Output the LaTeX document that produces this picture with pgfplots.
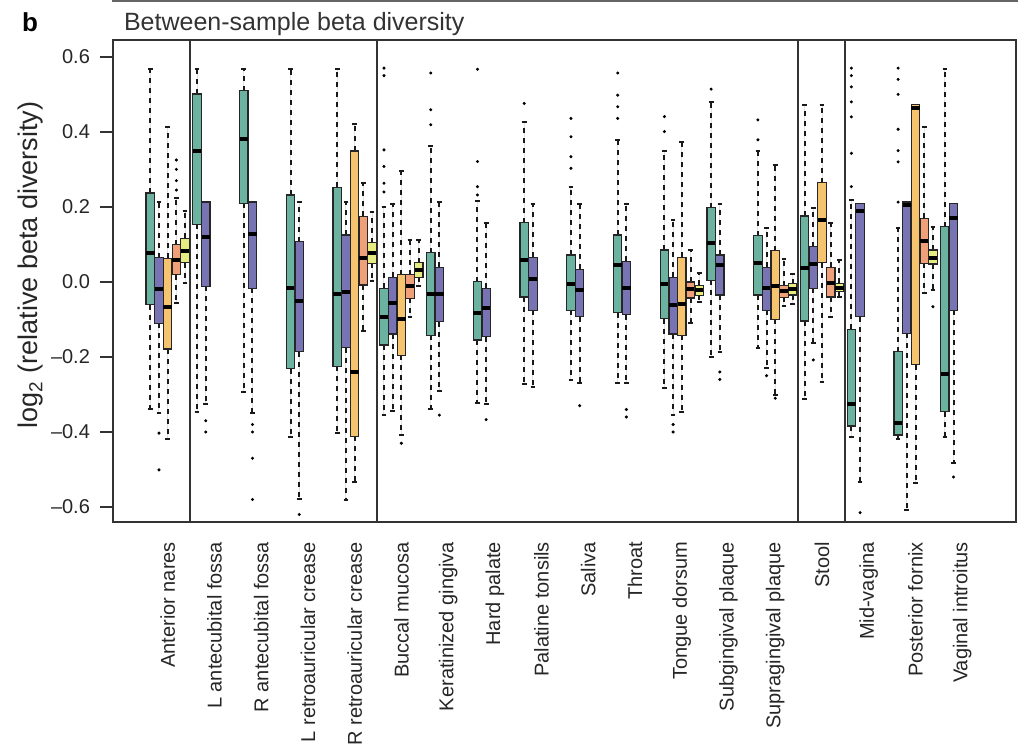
\documentclass[border=0pt]{standalone}
\usepackage{fontspec}
\setmainfont{Liberation Sans}
\usepackage{pgfplots}
\pgfplotsset{compat=1.18}
\usepgfplotslibrary{statistics}
\definecolor{cT}{RGB}{108,178,160}
\definecolor{cP}{RGB}{120,115,178}
\definecolor{cO}{RGB}{246,196,110}
\definecolor{cS}{RGB}{240,160,120}
\definecolor{cY}{RGB}{230,235,130}
% draw position, lower whisker, lower quartile, median, upper quartile, upper whisker, colour
\newcommand{\bx}[7]{\addplot[draw=black!85, fill=#7, line width=0.6pt,
  boxplot prepared={draw direction=y, draw position=#1, lower whisker=#2, lower quartile=#3,
  median=#4, upper quartile=#5, upper whisker=#6, box extend=0.18, whisker extend=0.1}]
  coordinates {};}
\begin{document}
\begin{tikzpicture}
\path[use as bounding box] (0,0) rectangle (509pt,-376.5pt);
\draw[black!60, line width=0.8pt] (56pt,-0.6pt) -- (509pt,-0.6pt);
\node[anchor=base west, font=\fontsize{13}{15}\selectfont\bfseries] at (7.5pt,-16pt) {b};
\node[anchor=base west, font=\fontsize{12.5}{15}\selectfont, text=black!80] at (58.5pt,-15.5pt) {Between-sample beta diversity};
\node[rotate=90, anchor=center, font=\fontsize{13.5}{15}\selectfont, text=black!85] at (15.5pt,-132.5pt) {log\textsubscript{2} (relative beta diversity)};
\begin{axis}[
  at={(56.5pt,-261pt)}, anchor=south west, scale only axis,
  width=451.5pt, height=241pt,
  xmin=-1.17, xmax=18.15, ymin=-0.64, ymax=0.645,
  axis line style={line width=0.9pt, black!80},
  ytick={-0.6,-0.4,-0.2,0,0.2,0.4,0.6},
  yticklabels={--0.6,--0.4,--0.2,0.0,0.2,0.4,0.6},
  ytick pos=left, tick align=outside, major tick length=6.5pt,
  y tick style={line width=0.8pt, black!80},
  xtick={0,...,17}, x tick style={draw=none}, xtick pos=bottom,
  xticklabels={Anterior nares, L antecubital fossa, R antecubital fossa, L retroauricular crease, R retroauricular crease, Buccal mucosa, Keratinized gingiva, Hard palate, Palatine tonsils, Saliva, Throat, Tongue dorsum, Subgingival plaque, Supragingival plaque, Stool, Mid-vagina, Posterior fornix, Vaginal introitus},
  tick label style={font=\fontsize{10}{12}\selectfont, text=black!85},
  x tick label style={rotate=90, anchor=east},
  y tick label style={xshift=-1.5pt},
  boxplot/draw direction=y,
  boxplot/every whisker/.style={dash pattern=on 2.5pt off 2.5pt, line width=1pt, black!90},
  boxplot/every median/.style={line width=2pt, black},
]
% separators
\draw[line width=1pt, black!80] (axis cs:0.47,-0.64) -- (axis cs:0.47,0.645);
\draw[line width=1pt, black!80] (axis cs:4.48,-0.64) -- (axis cs:4.48,0.645);
\draw[line width=1pt, black!80] (axis cs:13.48,-0.64) -- (axis cs:13.48,0.645);
\draw[line width=1pt, black!80] (axis cs:14.49,-0.64) -- (axis cs:14.49,0.645);
% 0 Anterior nares
\bx{-0.372}{-0.340}{-0.061}{0.078}{0.237}{0.567}{cT}
\bx{-0.186}{-0.350}{-0.110}{-0.020}{0.065}{0.213}{cP}
\bx{0}{-0.419}{-0.179}{-0.066}{0.063}{0.414}{cO}
\bx{0.186}{-0.057}{0.019}{0.059}{0.099}{0.223}{cS}
\bx{0.372}{-0.004}{0.051}{0.083}{0.116}{0.190}{cY}
% 1 L antecubital fossa
\bx{0.628}{-0.346}{0.154}{0.350}{0.501}{0.567}{cT}
\bx{0.814}{-0.326}{-0.012}{0.121}{0.213}{0.213}{cP}
% 2 R antecubital fossa
\bx{1.628}{-0.293}{0.210}{0.381}{0.510}{0.567}{cT}
\bx{1.814}{-0.349}{-0.017}{0.127}{0.213}{0.213}{cP}
% 3 L retroauricular crease
\bx{2.628}{-0.413}{-0.231}{-0.017}{0.232}{0.567}{cT}
\bx{2.814}{-0.580}{-0.186}{-0.050}{0.107}{0.213}{cP}
% 4 R retroauricular crease
\bx{3.628}{-0.402}{-0.225}{-0.032}{0.252}{0.567}{cT}
\bx{3.814}{-0.581}{-0.175}{-0.027}{0.125}{0.213}{cP}
\bx{4}{-0.534}{-0.411}{-0.239}{0.349}{0.420}{cO}
\bx{4.186}{-0.130}{-0.008}{0.065}{0.175}{0.263}{cS}
\bx{4.372}{0.003}{0.050}{0.077}{0.105}{0.186}{cY}
% 5 Buccal mucosa
\bx{4.628}{-0.355}{-0.168}{-0.093}{-0.017}{0.200}{cT}
\bx{4.814}{-0.344}{-0.139}{-0.055}{0.012}{0.209}{cP}
\bx{5}{-0.409}{-0.196}{-0.098}{0.019}{0.295}{cO}
\bx{5.186}{-0.093}{-0.044}{-0.012}{0.019}{0.112}{cS}
\bx{5.372}{-0.010}{0.012}{0.032}{0.051}{0.112}{cY}
% 6 Keratinized gingiva
\bx{5.628}{-0.340}{-0.142}{-0.032}{0.078}{0.363}{cT}
\bx{5.814}{-0.290}{-0.106}{-0.032}{0.039}{0.213}{cP}
% 7 Hard palate
\bx{6.628}{-0.324}{-0.155}{-0.084}{0.001}{0.216}{cT}
\bx{6.814}{-0.326}{-0.146}{-0.070}{-0.017}{0.158}{cP}
% 8 Palatine tonsils
\bx{7.628}{-0.271}{-0.040}{0.059}{0.158}{0.427}{cT}
\bx{7.814}{-0.280}{-0.076}{0.007}{0.066}{0.207}{cP}
% 9 Saliva
\bx{8.628}{-0.262}{-0.076}{-0.006}{0.072}{0.254}{cT}
\bx{8.814}{-0.269}{-0.093}{-0.021}{0.034}{0.209}{cP}
% 10 Throat
\bx{9.628}{-0.269}{-0.082}{0.045}{0.125}{0.379}{cT}
\bx{9.814}{-0.269}{-0.087}{-0.017}{0.055}{0.209}{cP}
% 11 Tongue dorsum
\bx{10.628}{-0.284}{-0.098}{-0.006}{0.085}{0.349}{cT}
\bx{10.814}{-0.355}{-0.139}{-0.061}{0.012}{0.165}{cP}
\bx{11}{-0.346}{-0.142}{-0.059}{0.066}{0.372}{cO}
\bx{11.186}{-0.110}{-0.043}{-0.020}{0.000}{0.085}{cS}
\bx{11.372}{-0.054}{-0.036}{-0.021}{-0.009}{0.024}{cY}
% 12 Subgingival plaque
\bx{11.628}{-0.200}{0.004}{0.105}{0.198}{0.481}{cT}
\bx{11.814}{-0.186}{-0.035}{0.045}{0.072}{0.207}{cP}
% 13 Supragingival plaque
\bx{12.628}{-0.177}{-0.035}{0.050}{0.123}{0.348}{cT}
\bx{12.814}{-0.229}{-0.076}{-0.015}{0.039}{0.143}{cP}
\bx{13}{-0.302}{-0.100}{-0.011}{0.083}{0.311}{cO}
\bx{13.186}{-0.065}{-0.041}{-0.025}{-0.010}{0.060}{cS}
\bx{13.372}{-0.060}{-0.035}{-0.020}{-0.005}{0.021}{cY}
% 14 Stool
\bx{13.628}{-0.311}{-0.104}{0.036}{0.176}{0.472}{cT}
\bx{13.814}{-0.164}{-0.017}{0.048}{0.094}{0.196}{cP}
\bx{14}{-0.267}{0.051}{0.166}{0.265}{0.472}{cO}
\bx{14.186}{-0.093}{-0.040}{-0.002}{0.039}{0.156}{cS}
\bx{14.372}{-0.040}{-0.026}{-0.015}{-0.004}{0.059}{cY}
% 15 Mid-vagina
\bx{14.628}{-0.413}{-0.384}{-0.326}{-0.126}{0.219}{cT}
\bx{14.814}{-0.533}{-0.093}{0.188}{0.209}{0.209}{cP}
% 16 Posterior fornix
\bx{15.628}{-0.420}{-0.408}{-0.376}{-0.186}{0.143}{cT}
\bx{15.814}{-0.609}{-0.137}{0.205}{0.213}{0.213}{cP}
\bx{16}{-0.535}{-0.221}{0.465}{0.473}{0.473}{cO}
\bx{16.186}{-0.030}{0.050}{0.109}{0.170}{0.414}{cS}
\bx{16.372}{-0.021}{0.048}{0.065}{0.085}{0.147}{cY}
% 17 Vaginal introitus
\bx{16.628}{-0.413}{-0.346}{-0.245}{0.147}{0.567}{cT}
\bx{16.814}{-0.484}{-0.076}{0.170}{0.209}{0.209}{cP}
% outliers
\addplot[only marks, mark=*, mark size=0.55pt, black] coordinates {
(-0.186,-0.403)(-0.186,-0.501)
(0.186,0.245)(0.186,0.27)(0.186,0.30)(0.186,0.325)
(0.814,-0.37)(0.814,-0.40)
(1.814,-0.38)(1.814,-0.40)(1.814,-0.47)(1.814,-0.58)
(2.814,-0.62)
(4.628,0.57)(4.628,0.55)(4.628,0.352)(4.628,0.308)(4.628,0.263)(4.628,0.24)
(5,-0.43)
(5.628,0.557)(5.628,0.459)(5.628,0.419)
(5.814,-0.355)
(6.628,0.567)(6.628,0.321)(6.628,0.254)(6.628,0.232)
(6.814,-0.367)
(7.628,0.476)
(8.628,0.436)(8.628,0.387)(8.628,0.334)(8.628,0.303)
(8.814,-0.33)
(9.628,0.557)(9.628,0.498)(9.628,0.467)(9.628,0.436)
(9.814,-0.34)(9.814,-0.36)
(10.628,0.441)(10.628,0.401)
(10.814,-0.38)(10.814,-0.40)
(11.628,0.514)
(11.814,-0.24)(11.814,-0.26)
(12.628,0.432)(12.628,0.379)
(12.814,-0.25)
(13,-0.31)
(13.814,-0.208)
(14.628,0.57)(14.628,0.55)(14.628,0.52)(14.628,0.48)(14.628,0.44)(14.628,0.343)(14.628,0.254)
(14.814,-0.615)
(15.628,0.57)(15.628,0.54)(15.628,0.50)(15.628,0.407)(15.628,0.35)(15.628,0.32)(15.628,0.213)
(16.372,-0.066)
(16.814,-0.52)
};
\end{axis}
\end{tikzpicture}
\end{document}
